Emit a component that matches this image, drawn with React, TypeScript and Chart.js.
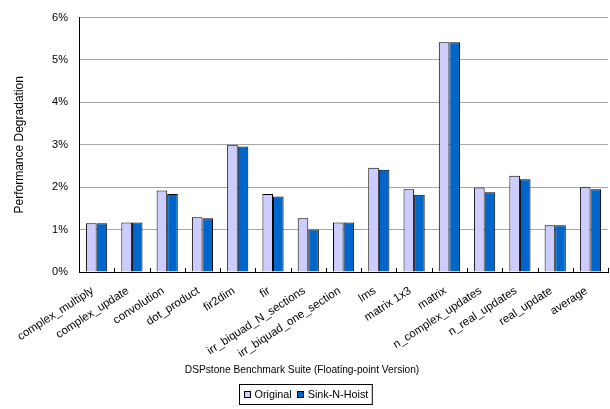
import React, { useEffect, useRef } from "react";
import { Chart, registerables } from "chart.js";

Chart.register(...registerables);

const categories = [
  "complex_multiply",
  "complex_update",
  "convolution",
  "dot_product",
  "fir2dim",
  "fir",
  "irr_biquad_N_sections",
  "irr_biquad_one_section",
  "lms",
  "matrix 1x3",
  "matrix",
  "n_complex_updates",
  "n_real_updates",
  "real_update",
  "average",
];

const originalValues = [1.15, 1.17, 1.92, 1.29, 3.0, 1.84, 1.27, 1.17, 2.46, 1.95, 5.42, 1.99, 2.27, 1.1, 2.0];
const sinkValues = [1.15, 1.17, 1.84, 1.27, 2.96, 1.78, 1.0, 1.17, 2.41, 1.82, 5.42, 1.88, 2.19, 1.1, 1.95];

const yTicks = [0, 1, 2, 3, 4, 5, 6];
const seriesNames = ["Original", "Sink-N-Hoist"];
const xTitle = "DSPstone Benchmark Suite (Floating-point Version)";
const yTitle = "Performance Degradation";

const FONT = "'Liberation Sans', Arial, sans-serif";
const COLORS = ["#ccccff", "#0066cc"];

const extrasPlugin = {
  id: "extras",
  afterDatasetsDraw(chart: any) {
    const ctx = chart.ctx;
    const xs = chart.scales.x;
    const area = chart.chartArea;
    const n = categories.length;
    const half = (xs.getPixelForValue(1) - xs.getPixelForValue(0)) / 2;
    ctx.save();
    ctx.strokeStyle = "#000";
    ctx.lineWidth = 1;
    for (let i = 0; i <= n; i++) {
      const x = Math.round(xs.getPixelForValue(i) - half) + 0.5;
      ctx.beginPath();
      ctx.moveTo(x, area.bottom);
      ctx.lineTo(x, area.bottom - 4);
      ctx.stroke();
    }
    ctx.restore();
  },
  afterDraw(chart: any) {
    const ctx = chart.ctx;
    ctx.save();
    // x axis title
    ctx.fillStyle = "#000";
    ctx.font = `10.2px ${FONT}`;
    ctx.textAlign = "center";
    ctx.textBaseline = "middle";
    ctx.fillText(xTitle, 302, 370);
    // legend
    ctx.font = `10.8px ${FONT}`;
    const w1 = ctx.measureText(seriesNames[0]).width;
    const w2 = ctx.measureText(seriesNames[1]).width;
    const box = 7;
    const gap = 4;
    const pad = 4;
    const itemGap = 5;
    const total = pad + box + gap + w1 + itemGap + box + gap + w2 + pad;
    const lx = Math.round(305 - total / 2) + 0.5;
    const ly = 384.5;
    const lh = 20;
    ctx.fillStyle = "#fff";
    ctx.fillRect(lx, ly, total, lh);
    ctx.strokeStyle = "#000";
    ctx.lineWidth = 1;
    ctx.strokeRect(lx, ly, total, lh);
    let cx = lx + pad;
    const cy = ly + lh / 2;
    ctx.textAlign = "left";
    ctx.textBaseline = "middle";
    for (let i = 0; i < 2; i++) {
      ctx.fillStyle = COLORS[i];
      ctx.fillRect(Math.round(cx), Math.round(cy - box / 2), box, box);
      ctx.strokeRect(Math.round(cx) + 0.5, Math.round(cy - box / 2) + 0.5, box - 1, box - 1);
      cx += box + gap;
      ctx.fillStyle = "#000";
      ctx.fillText(seriesNames[i], cx, cy + 0.5);
      cx += (i === 0 ? w1 : w2) + itemGap;
    }
    ctx.restore();
  },
};

export default function App() {
  const ref = useRef<HTMLCanvasElement>(null);
  useEffect(() => {
    if (!ref.current) return;
    const chart = new Chart(ref.current, {
      type: "bar",
      data: {
        labels: categories,
        datasets: seriesNames.map((name, i) => ({
          label: name,
          data: i === 0 ? originalValues : sinkValues,
          backgroundColor: COLORS[i],
          borderColor: "#000",
          borderWidth: 1,
          categoryPercentage: 0.6,
          barPercentage: 1,
        })),
      },
      options: {
        animation: false,
        responsive: false,
        devicePixelRatio: 1,
        layout: { padding: { top: 10, right: 0, left: 0, bottom: 0 } },
        plugins: { legend: { display: false }, tooltip: { enabled: false } },
        scales: {
          x: {
            grid: { display: false, drawTicks: false },
            border: { display: true, color: "#000", width: 1 },
            ticks: {
              autoSkip: false,
              minRotation: 33,
              maxRotation: 33,
              padding: 12,
              labelOffset: -4,
              color: "#000",
              font: { family: FONT, size: 11.5 },
            },
            afterFit: (s: any) => {
              s.height = 137;
            },
          },
          y: {
            min: 0,
            max: 6,
            afterBuildTicks: (s: any) => {
              s.ticks = yTicks.map((v) => ({ value: v }));
            },
            grid: {
              drawTicks: false,
              color: (c: any) => (c.tick && c.tick.value === 0 ? "rgba(0,0,0,0)" : "#a6a6a6"),
              lineWidth: 1,
            },
            border: { display: true, color: "#000", width: 1 },
            ticks: {
              padding: 11,
              color: "#000",
              font: { family: FONT, size: 11 },
              callback: (v: any) => `${v}%`,
            },
            title: {
              display: true,
              text: yTitle,
              color: "#000",
              font: { family: FONT, size: 12 },
              padding: { top: 12, bottom: 0 },
            },
            afterFit: (s: any) => {
              s.width = 79;
            },
          },
        },
      },
      plugins: [extrasPlugin],
    });
    return () => chart.destroy();
  }, []);
  return (
    <div style={{ position: "absolute", left: 0, top: 0, width: 610, height: 409, background: "#fff" }}>
      <canvas ref={ref} width={610} height={409} />
    </div>
  );
}
